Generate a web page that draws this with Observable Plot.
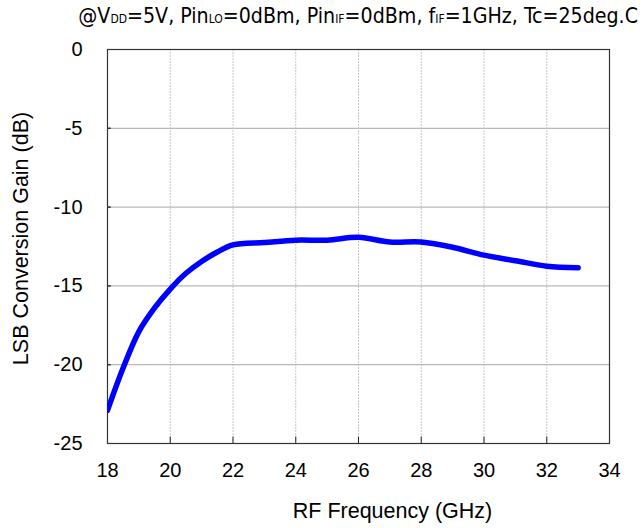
<!DOCTYPE html>
<html>
<head>
<meta charset="utf-8">
<script src="https://cdn.jsdelivr.net/npm/d3@7"></script>
<script src="https://cdn.jsdelivr.net/npm/@observablehq/plot@0.6"></script>
<style>
  body { margin: 0; background: #fff; }
  #wrap { width: 643px; }
  #title { position: relative; height: 30px; }
  #title span.t { position: absolute; right: 5px; top: 5px; line-height: 1; white-space: nowrap;
           font-family: "DejaVu Sans Condensed", "DejaVu Sans", sans-serif; font-stretch: condensed;
           font-size: 21.2px; color: #000; }
  #title .s { font-size: 12px; }
</style>
</head>
<body>
<div id="wrap">
  <div id="title"><span class="t">@V<span class="s">DD</span>=5V, Pin<span class="s">LO</span>=0dBm, Pin<span class="s">IF</span>=0dBm, f<span class="s">IF</span>=1GHz, Tc=25deg.C</span></div>
  <div id="chart"></div>
</div>
<script>
const freq = [18, 18.5, 19, 19.5, 20, 20.5, 21, 21.5, 22, 23, 24, 25, 26, 27, 28, 29, 30, 31, 32, 33];
const gain = [-22.9, -20.2, -17.9, -16.4, -15.2, -14.2, -13.45, -12.85, -12.4, -12.25, -12.1, -12.1, -11.92, -12.22, -12.22, -12.55, -13.05, -13.4, -13.75, -13.85];
const xTicks = [18, 20, 22, 24, 26, 28, 30, 32, 34];
const yTicks = [0, -5, -10, -15, -20, -25];
const xLabel = "RF Frequency (GHz)";
const yLabel = "LSB Conversion Gain (dB)";

const data = freq.map((f, i) => ({f, g: gain[i]}));
const innerX = xTicks.slice(1, -1);
const innerY = yTicks.slice(1, -1);

const chart = Plot.plot({
  width: 643,
  height: 498,
  marginTop: 19,
  marginLeft: 107,
  marginRight: 34,
  marginBottom: 85,
  style: {fontFamily: "'Liberation Sans', Arial, sans-serif", fontSize: "20px", color: "#000", background: "#fff", overflow: "visible"},
  x: {domain: [18, 34]},
  y: {domain: [-25, 0]},
  marks: [
    Plot.ruleX(innerX, {stroke: "#c8c8c8", strokeWidth: 1, strokeDasharray: "2,1"}),
    Plot.ruleY(innerY, {stroke: "#b8b8b8", strokeWidth: 1.3}),
    Plot.ruleX(innerX, {y1: -25, y2: -24.6, stroke: "#222", strokeWidth: 1}),
    Plot.ruleY(innerY, {x1: 18, x2: 18.12, stroke: "#333", strokeWidth: 1.5}),
    Plot.frame({stroke: "#333", strokeWidth: 1.2}),
    Plot.line(data, {x: "f", y: "g", stroke: "#0000ff", strokeWidth: 5.5, curve: "catmull-rom", strokeLinecap: "round", clip: true}),
    Plot.axisX({ticks: xTicks, tickSize: 0, tickPadding: 19, label: null, tickFormat: d => String(d), fontSize: 20}),
    Plot.axisY({ticks: yTicks, tickSize: 0, tickPadding: 25, label: null, tickFormat: d => String(d), fontSize: 20}),
    Plot.text([xLabel], {frameAnchor: "bottom", lineAnchor: "middle", dx: 34, dy: 68, text: d => d, fontSize: 21.5}),
    Plot.text([yLabel], {frameAnchor: "left", lineAnchor: "middle", textAnchor: "middle", dx: -86, dy: -8, rotate: -90, text: d => d, fontSize: 21.5})
  ]
});
document.getElementById("chart").appendChild(chart);
</script>
</body>
</html>
